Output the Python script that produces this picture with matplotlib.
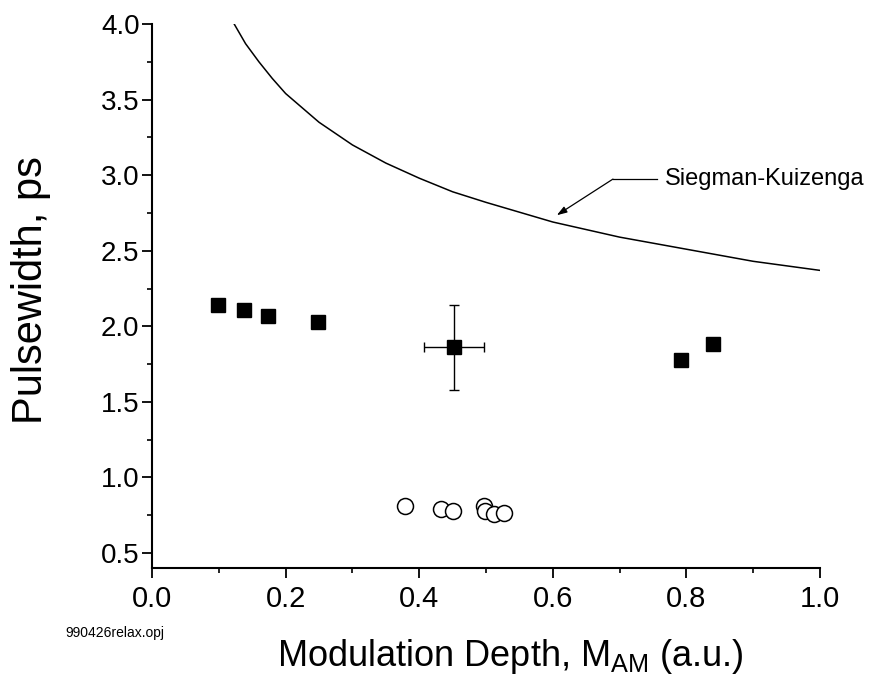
import matplotlib
matplotlib.use("Agg")
import matplotlib.pyplot as plt
from matplotlib.ticker import MultipleLocator

plt.rcParams['font.family'] = ['Liberation Sans', 'DejaVu Sans']

# measured pulsewidths (filled squares)
depth_meas = [0.099, 0.138, 0.174, 0.249, 0.452, 0.792, 0.840]
width_meas = [2.14, 2.11, 2.07, 2.03, 1.86, 1.78, 1.88]

# error bar on one point
err_x = 0.452
err_y = 1.86
err_dx = 0.045
err_dy = 0.28

# relaxation points (open circles)
depth_relax = [0.379, 0.433, 0.451, 0.497, 0.499, 0.512, 0.527]
width_relax = [0.808, 0.788, 0.775, 0.808, 0.781, 0.755, 0.768]

# Siegman-Kuizenga curve
sk_depth = [0.123, 0.14, 0.16, 0.18, 0.20, 0.25, 0.30, 0.35, 0.40, 0.45,
            0.50, 0.60, 0.70, 0.80, 0.90, 1.00]
sk_width = [4.00, 3.87, 3.75, 3.64, 3.54, 3.35, 3.20, 3.08, 2.98, 2.89,
            2.82, 2.69, 2.59, 2.51, 2.43, 2.37]

fig = plt.figure(figsize=(8.86, 6.92), dpi=100)
ax = fig.add_axes([0.1716, 0.179, 0.7539, 0.7863])

ax.plot(sk_depth, sk_width, color='black', lw=1.1)

ax.errorbar([err_x], [err_y], xerr=[err_dx], yerr=[err_dy], fmt='none',
            ecolor='black', elinewidth=1.0, capsize=3.6, capthick=1.0)
ax.plot(depth_meas, width_meas, 's', color='black', ms=10.5, mec='black')
ax.plot(depth_relax, width_relax, 'o', mfc='white', mec='black', ms=11.5,
        mew=1.1)

# label with bent arrow
ax.plot([0.690, 0.756], [2.974, 2.974], color='black', lw=0.9)
ax.annotate('', xy=(0.606, 2.735), xytext=(0.690, 2.974),
            arrowprops=dict(arrowstyle='-|>,head_length=0.6,head_width=0.2',
                            color='black', lw=0.9, shrinkA=0, shrinkB=0))
ax.text(0.768, 2.974, 'Siegman-Kuizenga', fontsize=17, va='center',
        ha='left')

ax.set_xlim(0.0, 1.0)
ax.set_ylim(0.4, 4.0)
ax.xaxis.set_major_locator(MultipleLocator(0.2))
ax.xaxis.set_minor_locator(MultipleLocator(0.1))
ax.yaxis.set_major_locator(MultipleLocator(0.5))
ax.yaxis.set_minor_locator(MultipleLocator(0.25))
ax.set_yticks([0.5, 1.0, 1.5, 2.0, 2.5, 3.0, 3.5, 4.0])

for side in ['top', 'right']:
    ax.spines[side].set_visible(False)
for side in ['left', 'bottom']:
    ax.spines[side].set_linewidth(1.5)

ax.tick_params(which='major', direction='out', length=7, width=1.3)
ax.tick_params(which='minor', direction='out', length=3.6, width=1.2)
ax.tick_params(axis='x', labelsize=21, pad=5)
ax.tick_params(axis='y', labelsize=20, pad=2)

ax.set_xlabel(r'Modulation Depth, M$_{\mathregular{AM}}$ (a.u.)',
              fontsize=26)
ax.xaxis.set_label_coords(0.537, -0.127)
ax.set_ylabel('Pulsewidth, ps', fontsize=30)
ax.yaxis.set_label_coords(-0.152, 0.511)

fig.text(0.0733, 0.085, '990426relax.opj', fontsize=10, ha='left',
         va='center')

fig.savefig('out.png', dpi=100)
